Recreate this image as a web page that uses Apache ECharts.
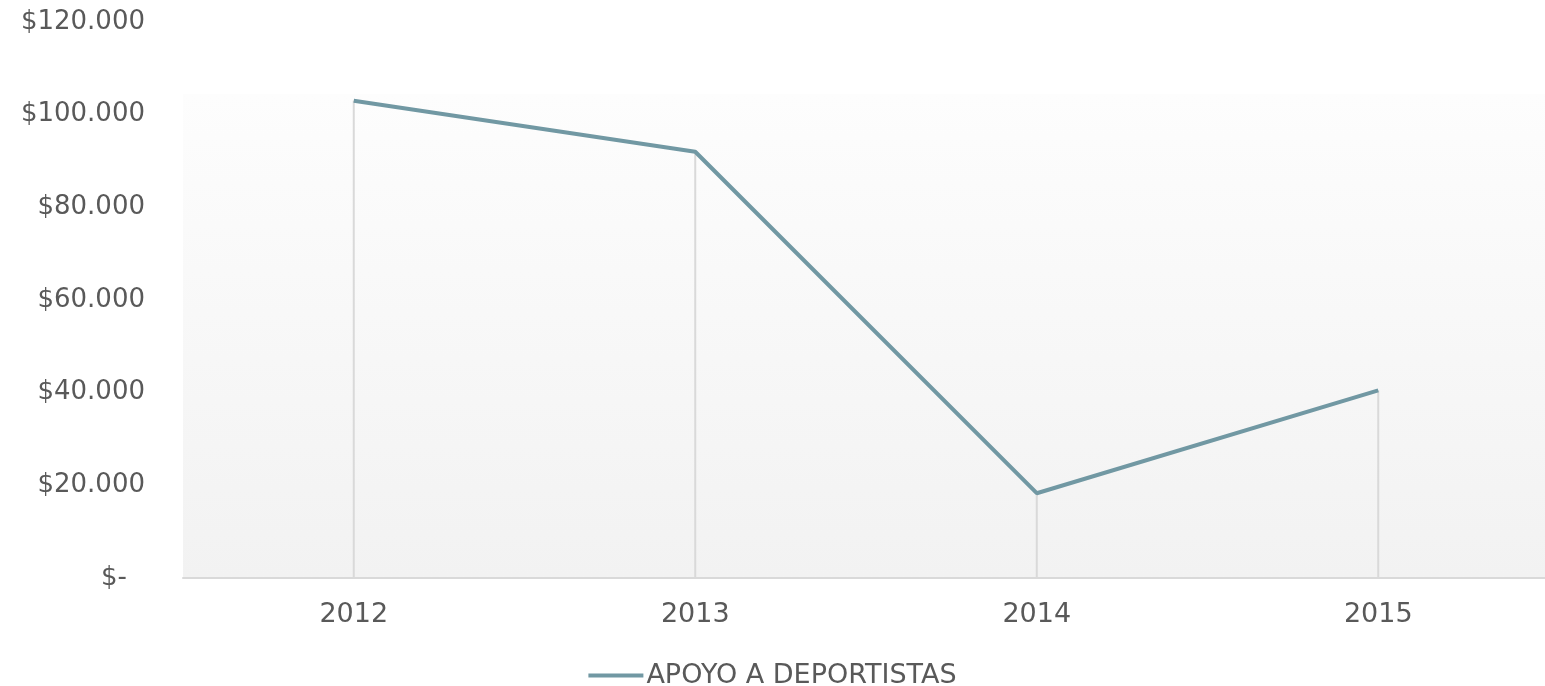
<!DOCTYPE html>
<html>
<head>
    <meta charset="utf-8">
    <script src="https://cdn.jsdelivr.net/npm/echarts@6/dist/echarts.min.js"></script>
    <style>
        html, body { margin: 0; padding: 0; background: #fff; }
    </style>
</head>
<body>
    <div id="main" style="width: 1545px;height:686px;"></div>
    <script type="text/javascript">
        // datos del grafico
        var years = ['2012', '2013', '2014', '2015'];
        var apoyo = [103000, 92000, 18300, 40500];
        var seriesName = 'APOYO A DEPORTISTAS';

        var font = 'DejaVu Sans';
        var txt = '#595959';

        var myChart = echarts.init(document.getElementById('main'));
        myChart.setOption({
            animation: false,
            textStyle: { fontFamily: font },
            grid: {
                left: 183, top: 22, bottom: 108, width: 1366,
                outerBoundsMode: 'none',
                show: true,
                borderWidth: 0,
                backgroundColor: new echarts.graphic.LinearGradient(0, 0, 0, 1, [
                    { offset: 0, color: '#ffffff' },
                    { offset: 0.129, color: '#ffffff' },
                    { offset: 0.13, color: '#fdfdfd' },
                    { offset: 1, color: '#f2f2f2' }
                ])
            },
            legend: {
                bottom: -8,
                left: 'center',
                data: [seriesName],
                icon: 'rect',
                itemWidth: 55,
                itemHeight: 4,
                itemGap: 4,
                textStyle: { color: txt, fontSize: 27, fontFamily: font, padding: [0, 0, 0, -2] }
            },
            xAxis: {
                type: 'category',
                data: years,
                axisLine: { lineStyle: { color: '#d9d9d9', width: 2 } },
                axisTick: { show: false },
                axisLabel: { color: txt, fontSize: 27, margin: 23 }
            },
            yAxis: {
                type: 'value',
                min: 0,
                max: 120000,
                interval: 20000,
                splitLine: { show: false },
                axisLine: { show: false },
                axisTick: { show: false },
                axisLabel: {
                    color: txt,
                    fontSize: 26,
                    margin: 38,
                    formatter: function (v) {
                        if (v === 0) return '{z|$-}';
                        return '$' + v.toString().replace(/\B(?=(\d{3})+(?!\d))/g, '.');
                    },
                    rich: { z: { color: txt, fontSize: 26, padding: [0, 18, 0, 0] } }
                }
            },
            series: [
                {
                    // lineas de caida
                    name: 'caida',
                    type: 'bar',
                    data: apoyo,
                    barWidth: 2,
                    itemStyle: { color: '#d9d9d9' },
                    silent: true,
                    z: 1
                },
                {
                    name: seriesName,
                    type: 'line',
                    data: apoyo,
                    symbol: 'none',
                    lineStyle: { color: '#7198a3', width: 4 },
                    itemStyle: { color: '#7198a3' },
                    z: 3
                }
            ]
        });
    </script>
</body>
</html>
